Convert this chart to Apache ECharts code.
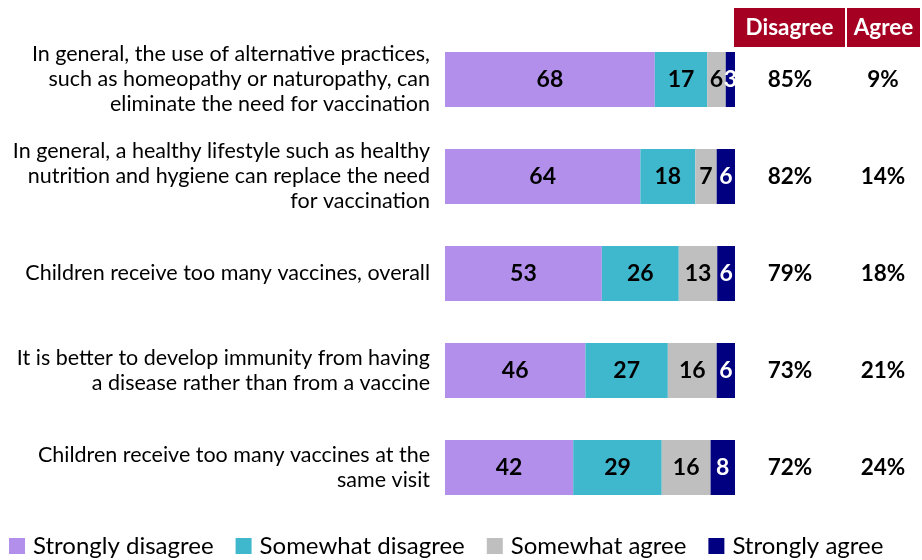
<!DOCTYPE html>
<html>
<head>
<meta charset="utf-8">
<script src="https://cdn.jsdelivr.net/npm/echarts@6/dist/echarts.min.js"></script>
<style>
  html, body { margin: 0; padding: 0; background: #ffffff; }
  #chart { width: 922px; height: 560px; }
</style>
</head>
<body>
<div id="chart"></div>
<script>
// Statements about vaccination (top to bottom)
const statements = [
  'In general, the use of alternative practices,\nsuch as homeopathy or naturopathy, can\neliminate the need for vaccination',
  'In general, a healthy lifestyle such as healthy\nnutrition and hygiene can replace the need\nfor vaccination',
  'Children receive too many vaccines, overall',
  'It is better to develop immunity from having\na disease rather than from a vaccine',
  'Children receive too many vaccines at the\nsame visit'
];

const seriesNames = ['Strongly disagree', 'Somewhat disagree', 'Somewhat agree', 'Strongly agree'];
const seriesColors = ['#B28FEB', '#3FB7CC', '#BFBFBF', '#000080'];

const stronglyDisagree = [68, 64, 53, 46, 42];
const somewhatDisagree = [17, 18, 26, 27, 29];
const somewhatAgree    = [6, 7, 13, 16, 16];
const stronglyAgree    = [3, 6, 6, 6, 8];

// Net totals shown in the right-hand columns
const disagreeTotal = [85, 82, 79, 73, 72];
const agreeTotal    = [9, 14, 18, 21, 24];

const columnHeaders = ['Disagree', 'Agree'];

const FONT = 'Lato, "Open Sans", sans-serif';

const seriesValues = [stronglyDisagree, somewhatDisagree, somewhatAgree, stronglyAgree];

// Each row is drawn as a share of the answers given in that row
const rowTotals = statements.map((_, i) =>
  seriesValues.reduce((s, arr) => s + arr[i], 0));

const series = seriesValues.map((arr, k) => ({
  name: seriesNames[k],
  type: 'bar',
  stack: 'all',
  barWidth: 55,
  itemStyle: { color: seriesColors[k] },
  label: {
    show: true,
    position: 'inside',
    fontFamily: FONT,
    fontWeight: 'bold',
    fontSize: 23,
    color: k === 3 ? '#ffffff' : '#000000',
    formatter: p => p.data.raw
  },
  emphasis: { disabled: true },
  data: arr.map((v, i) => ({ value: v / rowTotals[i] * 100, raw: v }))
}));

const chart = echarts.init(document.getElementById('chart'), null, { renderer: 'canvas' });

chart.setOption({
  animation: false,
  backgroundColor: '#ffffff',
  grid: { left: 445, right: 187, top: 31, height: 485, containLabel: false },
  xAxis: { type: 'value', min: 0, max: 100, show: false },
  yAxis: [
    {
      type: 'category',
      inverse: true,
      data: statements,
      axisLine: { show: false },
      axisTick: { show: false },
      axisLabel: {
        margin: 15,
        fontFamily: FONT,
        fontSize: 21.5,
        lineHeight: 25,
        color: '#000000',
        align: 'right'
      }
    },
    {
      type: 'category',
      inverse: true,
      position: 'right',
      data: statements,
      axisLine: { show: false },
      axisTick: { show: false },
      axisLabel: {
        margin: 0,
        formatter: (v, i) => '{d|' + disagreeTotal[i] + '%}{a|' + agreeTotal[i] + '%}',
        rich: {
          d: { width: 110, align: 'center', fontFamily: FONT, fontWeight: 'bold', fontSize: 22.5, color: '#000' },
          a: { width: 76, align: 'center', fontFamily: FONT, fontWeight: 'bold', fontSize: 22.5, color: '#000' }
        }
      }
    }
  ],
  legend: {
    bottom: -3,
    left: 4,
    itemWidth: 16,
    itemHeight: 16,
    itemGap: 22,
    icon: 'rect',
    textStyle: { fontFamily: FONT, fontSize: 24, color: '#000000', padding: [0, 0, 0, 3] },
    data: seriesNames
  },
  graphic: [
    {
      type: 'group',
      left: 734,
      top: 8,
      children: [
        { type: 'rect', shape: { x: 0, y: 0, width: 111, height: 39 }, style: { fill: '#A50021' } },
        { type: 'text', x: 55.5, y: 20, style: { text: columnHeaders[0], fill: '#fff', font: 'bold 22.5px ' + FONT, align: 'center', verticalAlign: 'middle' } }
      ]
    },
    {
      type: 'group',
      left: 847,
      top: 8,
      children: [
        { type: 'rect', shape: { x: 0, y: 0, width: 73, height: 39 }, style: { fill: '#A50021' } },
        { type: 'text', x: 36.5, y: 20, style: { text: columnHeaders[1], fill: '#fff', font: 'bold 22.5px ' + FONT, align: 'center', verticalAlign: 'middle' } }
      ]
    }
  ],
  series: series
});
</script>
</body>
</html>
